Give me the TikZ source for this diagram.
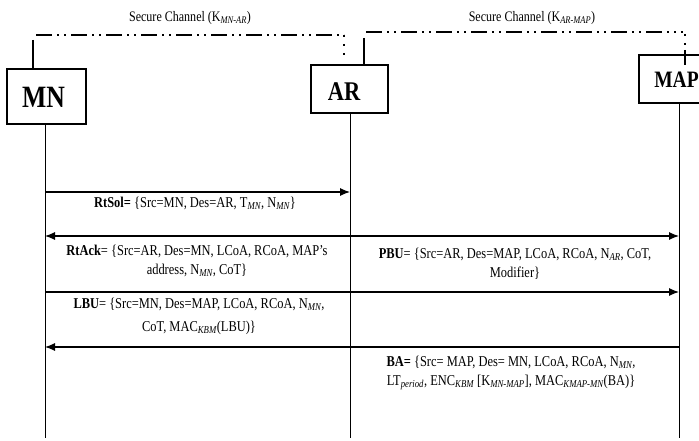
\documentclass[tikz,border=0pt]{standalone}
\usepackage{fontspec}
\setmainfont{Liberation Serif}[FakeStretch=0.83]
\usetikzlibrary{arrows.meta}
\newcommand{\sbi}[1]{\textsubscript{\itshape #1}}
\begin{document}
\begin{tikzpicture}[x=1pt,y=-1pt,
 entity/.style={draw,line width=1.4pt,inner sep=0pt},
 entlbl/.style={font=\bfseries,inner sep=0pt},
 life/.style={line width=0.8pt},
 msg/.style={line width=1.1pt,-{Latex[length=10pt,width=8pt]}},
 lbl/.style={font=\fontsize{15}{19}\selectfont,align=center,inner sep=0pt},
 chan/.style={line width=2.4pt,dash pattern=on 16pt off 5pt on 2pt off 5pt on 2pt off 5pt},
 chandot/.style={line width=2pt,dash pattern=on 2pt off 7pt},
 chanstub/.style={line width=1.5pt},
 chanlbl/.style={font=\fontsize{14.5}{17}\selectfont,inner sep=0pt}]
\useasboundingbox (0,0) rectangle (699,441);
\clip (0,0) rectangle (699,441);

% entities
\node[entity,minimum width=79pt,minimum height=55pt] (MN) at (46.5,96.5) {};
\node[entity,minimum width=77pt,minimum height=48pt] (AR) at (349.5,89) {};
\node[entity,minimum width=81pt,minimum height=48pt] (MAP) at (679.5,79) {};
\node[entlbl,font=\fontsize{31}{34}\selectfont\bfseries] (MNt) at (43.5,97) {MN};
\node[entlbl,font=\fontsize{27}{30}\selectfont\bfseries] (ARt) at (344,92) {AR};
\node[entlbl,font=\fontsize{23.5}{26}\selectfont\bfseries] (MAPt) at (676.5,80) {MAP};

% lifelines
\coordinate (mnE) at (45,438);
\coordinate (arE) at (350,438);
\coordinate (mapE) at (679,438);
\draw[life] (MN.south -| mnE) -- (mnE);
\draw[life] (AR.south -| arE) -- (arE);
\draw[life] (MAP.south -| mapE) -- (mapE);

% secure channel MN-AR
\coordinate (c1v) at (33,40);
\coordinate (c1a) at (36,35);
\coordinate (c1b) at (344,35);
\coordinate (c1c) at (344,61);
\draw[chanstub] (c1v) -- (MN.north -| c1v);
\draw[chan] (c1a) -- (c1b);
\draw[chandot] (c1b) -- (c1c);
\node[chanlbl] (s1) at (190,18) {Secure Channel (K\sbi{MN-AR})};

% secure channel AR-MAP
\coordinate (c2v) at (364,38);
\coordinate (c2a) at (366,32);
\coordinate (c2b) at (683,32);
\coordinate (c2c) at (685,34);
\coordinate (c2d) at (685,46);
\coordinate (c2e) at (685,50);
\coordinate (c2f) at (685,65);
\draw[chanstub] (c2v) -- (AR.north -| c2v);
\draw[chan] (c2a) -- (c2b);
\draw[chandot] (c2c) -- (c2d);
\draw[chanstub] (c2e) -- (c2f);
\node[chanlbl] (s2) at (532,18) {Secure Channel (K\sbi{AR-MAP})};

% message end points
\coordinate (mn1) at (45,192);  \coordinate (ar1) at (350,192);
\coordinate (mn2) at (45,236);  \coordinate (ar2) at (350,236);  \coordinate (map2) at (679,236);
\coordinate (mn3) at (45,292);  \coordinate (map3) at (679,292);
\coordinate (mn4) at (45,347);  \coordinate (map4) at (679,347);

\draw[msg] (mn1) -- (ar1);
\draw[msg] (ar2) -- (mn2);
\draw[msg] (ar2) -- (map2);
\draw[msg] (mn3) -- (map3);
\draw[msg] (map4) -- (mn4);

% labels
\node[lbl] (t1) at (195,203) {\textbf{RtSol=} \{Src=MN, Des=AR, T\sbi{MN}, N\sbi{MN}\}};
\node[lbl] (t2) at (197,260.5) {\textbf{RtAck}= \{Src=AR, Des=MN, LCoA, RCoA, MAP’s\\address, N\sbi{MN}, CoT\}};
\node[lbl] (t3) at (515,264) {\textbf{PBU}= \{Src=AR, Des=MAP, LCoA, RCoA, N\sbi{AR}, CoT,\\Modifier\}};
\node[lbl,font=\fontsize{15}{23}\selectfont] (t4) at (199,316) {\textbf{LBU}= \{Src=MN, Des=MAP, LCoA, RCoA, N\sbi{MN},\\CoT, MAC\sbi{KBM}(LBU)\}};
\node[lbl] (t5) at (511,373) {\textbf{BA=} \{Src= MAP, Des= MN, LCoA, RCoA, N\sbi{MN},\\LT\sbi{period}, ENC\sbi{KBM} [K\sbi{MN-MAP}], MAC\sbi{KMAP-MN}(BA)\}};
\end{tikzpicture}
\end{document}
